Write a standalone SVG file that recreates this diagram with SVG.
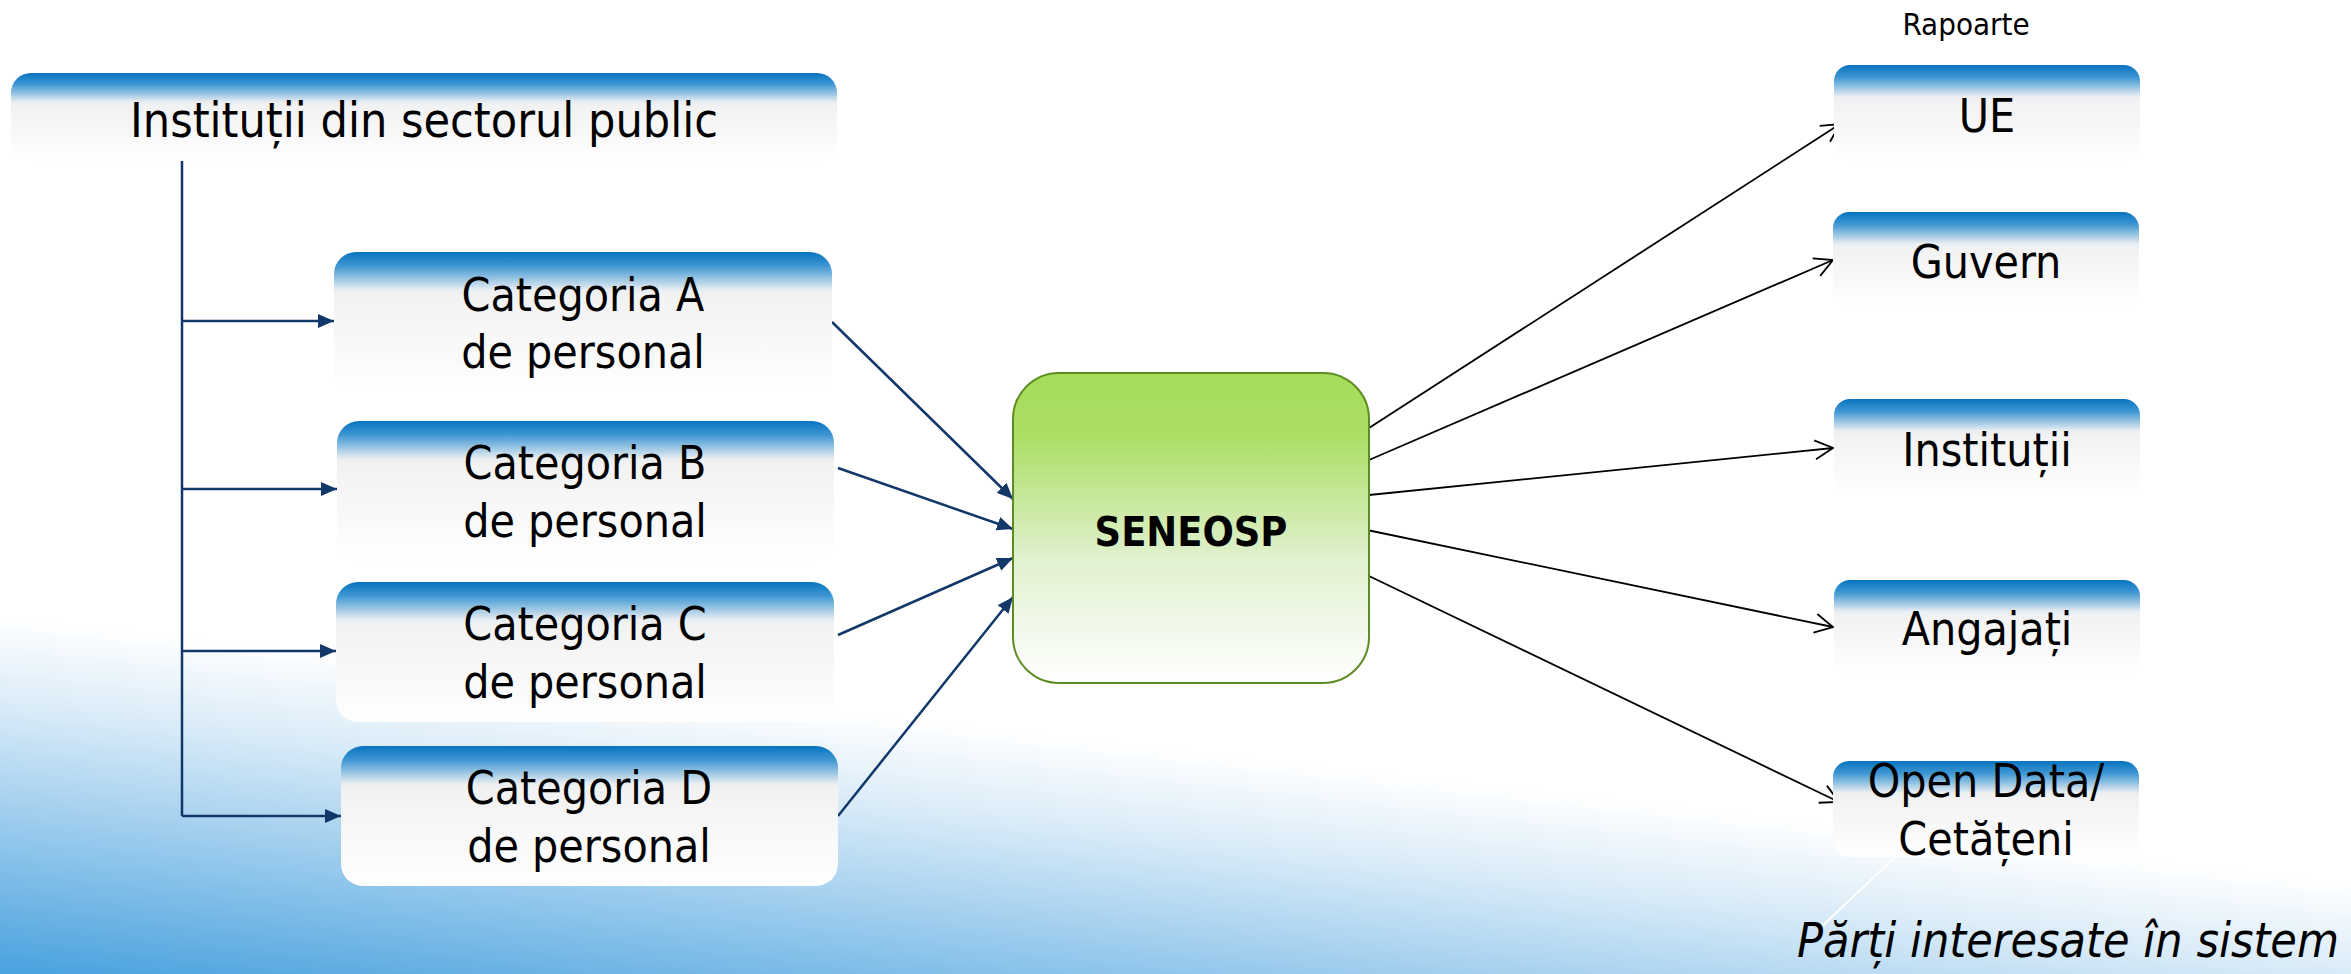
<svg xmlns="http://www.w3.org/2000/svg" width="2351" height="974" viewBox="0 0 2351 974">
<defs>
<style>
.t{font-family:"DejaVu Sans Condensed","DejaVu Sans",sans-serif;font-stretch:condensed;fill:#000;text-anchor:middle}
.big{font-size:46px}
.nav{stroke:#12386a;stroke-width:2.5;fill:none}
.blk{stroke:#000;stroke-width:1.8;fill:none}
</style>
<linearGradient id="bg" gradientUnits="userSpaceOnUse" x1="0" y1="615" x2="-41" y2="975">
<stop offset="0" stop-color="#ffffff"/>
<stop offset="0.25" stop-color="#d9ebf8"/>
<stop offset="1" stop-color="#46a0de"/>
</linearGradient>
<linearGradient id="gCat" x1="0" y1="0" x2="0" y2="1">
<stop offset="0" stop-color="#0873bf"/>
<stop offset="0.1" stop-color="#3f97d3"/>
<stop offset="0.27" stop-color="#eaeef2"/>
<stop offset="0.31" stop-color="#f2f2f2"/>
<stop offset="1" stop-color="#ffffff"/>
</linearGradient>
<linearGradient id="gSm" x1="0" y1="0" x2="0" y2="1">
<stop offset="0" stop-color="#0873bf"/>
<stop offset="0.13" stop-color="#3f97d3"/>
<stop offset="0.33" stop-color="#eaeef2"/>
<stop offset="0.38" stop-color="#f2f2f2"/>
<stop offset="1" stop-color="#ffffff"/>
</linearGradient>
<linearGradient id="gGreen" x1="0" y1="0" x2="0" y2="1">
<stop offset="0" stop-color="#a6dc5a"/>
<stop offset="0.2" stop-color="#acde64"/>
<stop offset="0.6" stop-color="#e0f1cf"/>
<stop offset="1" stop-color="#ffffff"/>
</linearGradient>
<marker id="aN" viewBox="0 0 16 14" refX="16" refY="7" markerWidth="16" markerHeight="14" markerUnits="userSpaceOnUse" orient="auto">
<path d="M0,0 L16,7 L0,14 z" fill="#12386a"/>
</marker>
<marker id="aO" viewBox="0 0 22 22" refX="20" refY="11" markerWidth="22" markerHeight="22" markerUnits="userSpaceOnUse" orient="auto" overflow="visible">
<path d="M2,1.5 L20,11 L2,20.5" fill="none" stroke="#000" stroke-width="1.8"/>
</marker>
</defs>
<rect x="0" y="0" width="2351" height="974" fill="url(#bg)"/>

<g id="connectors">
<path class="nav" d="M182,160 V816"/>
<path class="nav" d="M182,321 H334" marker-end="url(#aN)"/>
<path class="nav" d="M182,489 H337" marker-end="url(#aN)"/>
<path class="nav" d="M182,651 H336" marker-end="url(#aN)"/>
<path class="nav" d="M182,816 H341" marker-end="url(#aN)"/>
<path class="nav" d="M832,322 L1013,499" marker-end="url(#aN)"/>
<path class="nav" d="M838,468 L1013,529" marker-end="url(#aN)"/>
<path class="nav" d="M838,635 L1013,558" marker-end="url(#aN)"/>
<path class="nav" d="M838,816 L1013,597" marker-end="url(#aN)"/>
<path class="blk" d="M1369,428 L1840,124" marker-end="url(#aO)"/>
<path class="blk" d="M1369,460 L1833,260" marker-end="url(#aO)"/>
<path class="blk" d="M1369,495 L1833,448" marker-end="url(#aO)"/>
<path class="blk" d="M1367,530 L1833,627" marker-end="url(#aO)"/>
<path class="blk" d="M1369,576 L1839,802" marker-end="url(#aO)"/>
<path d="M1895,857 L1818,930" stroke="#ffffff" stroke-width="2" fill="none"/>
</g>

<g id="institutii-public">
<rect x="11" y="73" width="826" height="88" rx="20" fill="url(#gSm)"/>
<text class="t" x="424" y="137" font-size="48">Instituții din sectorul public</text>
</g>

<g id="cat-a">
<rect x="334" y="252" width="498" height="141" rx="22" fill="url(#gCat)"/>
<text class="t big" x="583" y="311">Categoria A</text>
<text class="t big" x="583" y="368">de personal</text>
</g>
<g id="cat-b">
<rect x="337" y="421" width="497" height="140" rx="22" fill="url(#gCat)"/>
<text class="t big" x="585" y="479">Categoria B</text>
<text class="t big" x="585" y="537">de personal</text>
</g>
<g id="cat-c">
<rect x="336" y="582" width="498" height="140" rx="22" fill="url(#gCat)"/>
<text class="t big" x="585" y="640">Categoria C</text>
<text class="t big" x="585" y="698">de personal</text>
</g>
<g id="cat-d">
<rect x="341" y="746" width="497" height="140" rx="22" fill="url(#gCat)"/>
<text class="t big" x="589" y="804">Categoria D</text>
<text class="t big" x="589" y="862">de personal</text>
</g>

<g id="seneosp">
<rect x="1013" y="373" width="356" height="310" rx="46" fill="url(#gGreen)" stroke="#5e8c24" stroke-width="2"/>
<text class="t" x="1191" y="546" font-size="41" font-weight="bold">SENEOSP</text>
</g>

<g id="rapoarte">
<text class="t" x="1966" y="35" font-size="31">Rapoarte</text>
</g>

<g id="ue">
<rect x="1834" y="65" width="306" height="96" rx="16" fill="url(#gSm)"/>
<text class="t big" x="1987" y="132">UE</text>
</g>
<g id="guvern">
<rect x="1833" y="212" width="306" height="96" rx="16" fill="url(#gSm)"/>
<text class="t big" x="1986" y="278">Guvern</text>
</g>
<g id="institutii">
<rect x="1834" y="399" width="306" height="96" rx="16" fill="url(#gSm)"/>
<text class="t big" x="1987" y="466">Instituții</text>
</g>
<g id="angajati">
<rect x="1834" y="580" width="306" height="96" rx="16" fill="url(#gSm)"/>
<text class="t big" x="1987" y="645">Angajați</text>
</g>
<g id="open-data">
<rect x="1833" y="761" width="306" height="96" rx="16" fill="url(#gSm)"/>
<text class="t big" x="1986" y="797">Open Data/</text>
<text class="t big" x="1986" y="855">Cetățeni</text>
</g>

<g id="parti-interesate">
<text class="t" x="2068" y="957" font-size="48" font-style="italic">Părți interesate în sistem</text>
</g>
</svg>
